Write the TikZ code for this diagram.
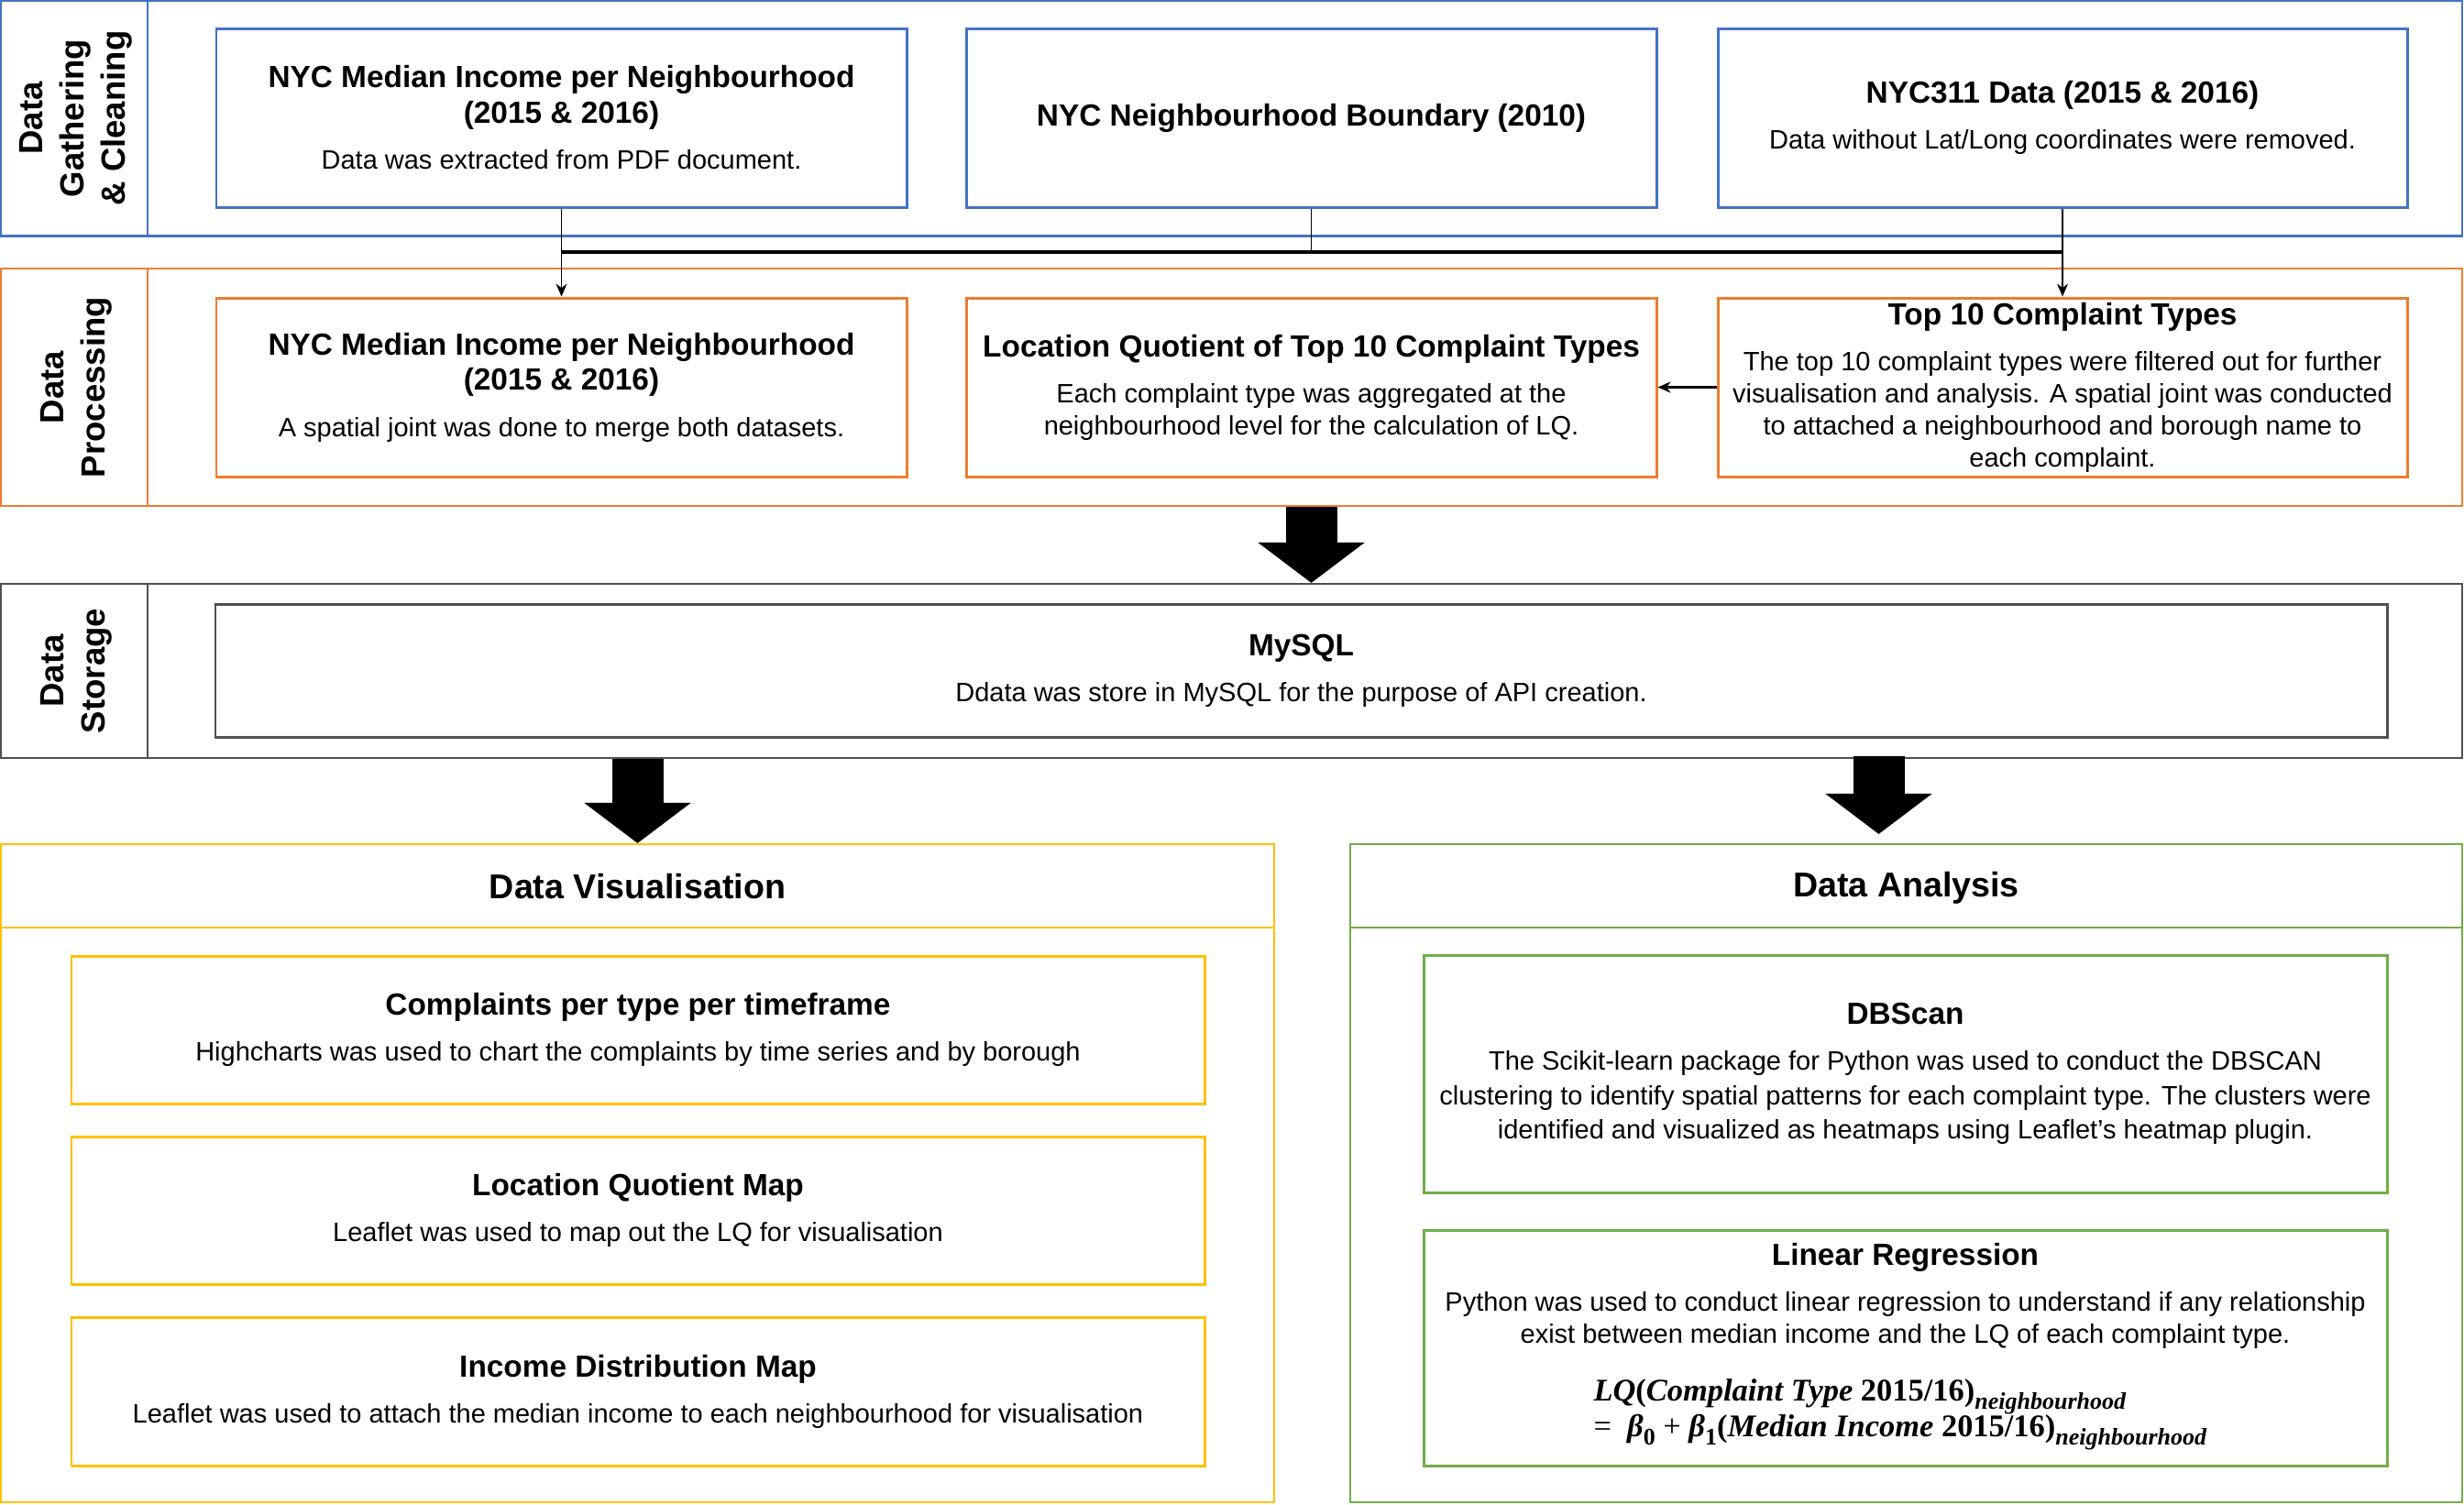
\documentclass[tikz,border=0pt]{standalone}
\usepackage[no-math]{fontspec}
\setmainfont{Liberation Sans}
\newfontfamily\eqnserif{Liberation Serif}
\usepackage{amsmath}
\usetikzlibrary{arrows.meta}

\definecolor{laneblue}{HTML}{4472C4}
\definecolor{laneorange}{HTML}{ED7D31}
\definecolor{lanegray}{HTML}{505050}
\definecolor{visyellow}{HTML}{FFC000}
\definecolor{anagreen}{HTML}{70AD47}

\newcommand{\bodyfont}{\fontsize{8.25}{9.96}\selectfont}
\newcommand{\ttlfont}{\fontsize{9.5}{11.1}\selectfont\bfseries}
\newcommand{\hdfont}{\fontsize{10.7}{12.8}\selectfont\bfseries}
\newcommand{\lanefont}{\fontsize{10.4}{12.8}\selectfont\bfseries}
\newcommand{\eqnfont}{\fontsize{9.8}{11}\selectfont\eqnserif\bfseries}
\newcommand{\subnb}{\raisebox{-0.25em}{\fontsize{7.4}{9}\selectfont\itshape neighbourhood}}
\newcommand{\subidx}[1]{\raisebox{-0.25em}{\fontsize{7.4}{9}\selectfont #1}}

\begin{document}
\begin{tikzpicture}[x=1cm, y=-1cm,
    lane/.style={draw=#1, line width=0.6pt, minimum width=26.85cm},
    card/.style={draw=#1, line width=0.85pt, inner sep=0pt, align=center, font=\bodyfont},
    panel/.style={draw=#1, line width=0.6pt},
    link/.style={line width=0.45pt},
    tip/.style={-{Stealth[length=0.14cm, width=0.12cm]}},
    bigarrow/.style={line width=0.56cm, -{Triangle[width=1.14cm, length=0.44cm]}}]
                \useasboundingbox (0,0) rectangle (26.88,16.41);

                % Swimlanes
                \node[lane=laneblue, minimum height=2.565cm] (gather) at (13.435,1.2925) {};
                \node[lane=laneorange, minimum height=2.59cm] (process) at (13.435,4.225) {};
                \node[lane=lanegray, minimum height=1.90cm] (storage) at (13.435,7.32) {};
                \draw[laneblue, line width=0.6pt] (1.61,0.01) -- (1.61,2.575);
                \draw[laneorange, line width=0.6pt] (1.61,2.93) -- (1.61,5.52);
                \draw[lanegray, line width=0.6pt] (1.61,6.37) -- (1.61,8.27);

                % Lane labels
                \node[rotate=90, align=center, font=\lanefont] (gatherlbl) at (0.83,1.29) {Data\\Gathering\\\& Cleaning};
                \node[rotate=90, align=center, font=\lanefont] (processlbl) at (0.83,4.225) {Data\\Processing};
                \node[rotate=90, align=center, font=\lanefont] (storagelbl) at (0.83,7.32) {Data\\Storage};

                % Data gathering & cleaning
                \node[card=laneblue, minimum width=7.53cm, minimum height=1.95cm] (incraw) at (6.125,1.285)
                    {{\ttlfont NYC Median Income per Neighbourhood}\\[1.1pt]{\ttlfont (2015 \& 2016)}\\[4.3pt]Data was extracted from PDF document.};
                \node[card=laneblue, minimum width=7.53cm, minimum height=1.95cm] (bound) at (14.305,1.285)
                    {{\ttlfont NYC Neighbourhood Boundary (2010)}};
                \node[card=laneblue, minimum width=7.52cm, minimum height=1.95cm] (nyc311) at (22.50,1.285)
                    {{\ttlfont NYC311 Data (2015 \& 2016)}\\[4.3pt]Data without Lat/Long coordinates were removed.};

                % Data processing
                \node[card=laneorange, minimum width=7.53cm, minimum height=1.95cm] (incjoin) at (6.125,4.225)
                    {{\ttlfont NYC Median Income per Neighbourhood}\\[1.1pt]{\ttlfont (2015 \& 2016)}\\[4.3pt]A spatial joint was done to merge both datasets.};
                \node[card=laneorange, minimum width=7.53cm, minimum height=1.95cm] (lq) at (14.305,4.225)
                    {{\ttlfont Location Quotient of Top 10 Complaint Types}\\[4.3pt]Each complaint type was aggregated at the\\neighbourhood level for the calculation of LQ.};
                \node[card=laneorange, minimum width=7.52cm, minimum height=1.95cm] (top10) at (22.50,4.225)
                    {{\ttlfont Top 10 Complaint Types}\\[4.3pt]The top 10 complaint types were filtered out for further\\visualisation and analysis. A spatial joint was conducted\\to attached a neighbourhood and borough name to\\each complaint.};

                % Data storage
                \node[card=lanegray, minimum width=23.69cm, minimum height=1.45cm] (mysql) at (14.195,7.315)
                    {{\ttlfont MySQL}\\[4.3pt]Ddata was store in MySQL for the purpose of API creation.};

                % Links between lanes
                \coordinate (bus) at (14.305,2.75);
                \draw[line width=1.1pt] (incraw |- bus) -- (nyc311 |- bus);
                \draw[link, tip] (incraw) -- (incjoin);
                \draw[link] (bound) -- (bus);
                \draw[link, tip] (nyc311) -- (top10);
                \draw[line width=0.85pt, tip] (top10) -- (lq);

                % Visualisation panel
                \node[panel=visyellow, minimum width=13.89cm, minimum height=7.18cm] (vis) at (6.955,12.80) {};
                \draw[visyellow, line width=0.6pt] (0.01,10.12) -- (13.90,10.12);
                \node[font=\hdfont] (vistitle) at (6.955,9.67) {Data Visualisation};
                \node[card=visyellow, minimum width=12.36cm, minimum height=1.61cm] (cpt) at (6.96,11.235)
                    {{\ttlfont Complaints per type per timeframe}\\[4.3pt]Highcharts was used to chart the complaints by time series and by borough};
                \node[card=visyellow, minimum width=12.36cm, minimum height=1.61cm] (lqmap) at (6.96,13.205)
                    {{\ttlfont Location Quotient Map}\\[4.3pt]Leaflet was used to map out the LQ for visualisation};
                \node[card=visyellow, minimum width=12.36cm, minimum height=1.62cm] (incmap) at (6.96,15.18)
                    {{\ttlfont Income Distribution Map}\\[4.3pt]Leaflet was used to attach the median income to each neighbourhood for visualisation};

                % Analysis panel
                \node[panel=anagreen, minimum width=12.13cm, minimum height=7.18cm] (ana) at (20.795,12.80) {};
                \draw[anagreen, line width=0.6pt] (14.73,10.12) -- (26.86,10.12);
                \node[font=\hdfont] (anatitle) at (20.795,9.69) {Data Analysis};
                \node[card=anagreen, minimum width=10.51cm, minimum height=2.59cm] (dbscan) at (20.785,11.715)
                    {{\ttlfont DBScan}\\[4.3pt]The Scikit-learn package for Python was used to conduct the DBSCAN\\[0.7pt]clustering to identify spatial patterns for each complaint type. The clusters were\\[0.7pt]identified and visualized as heatmaps using Leaflet’s heatmap plugin.};
                \node[card=anagreen, minimum width=10.51cm, minimum height=2.57cm] (linreg) at (20.785,14.705) {};
                \node[align=center, font=\bodyfont] (linregtxt) at (20.785,14.69)
                    {{\ttlfont Linear Regression}\\[4.3pt]Python was used to conduct linear regression to understand if any relationship\\exist between median income and the LQ of each complaint type.\\[7.9pt]
                     \makebox[6.8cm][l]{\eqnfont\textit{LQ}(\textit{Complaint Type} 2015/16)\subnb}\\[-0.8pt]
                     \makebox[6.8cm][l]{\eqnfont\mdseries=\ \ \bfseries\textit{β}\subidx{0} \mdseries+ \bfseries\textit{β}\subidx{1}(\textit{Median Income} 2015/16)\subnb}};

                % Flow between stages
                \coordinate (anatop) at ([xshift=-0.3cm, yshift=0.1cm]ana.north);
                \draw[bigarrow] (process.south -| bound) -- (storage.north -| bound);
                \draw[bigarrow] (storage.south -| vis) -- (vis.north);
                \draw[bigarrow] ([yshift=0.03cm]storage.south -| anatop) -- (anatop);
            \end{tikzpicture}
\end{document}
